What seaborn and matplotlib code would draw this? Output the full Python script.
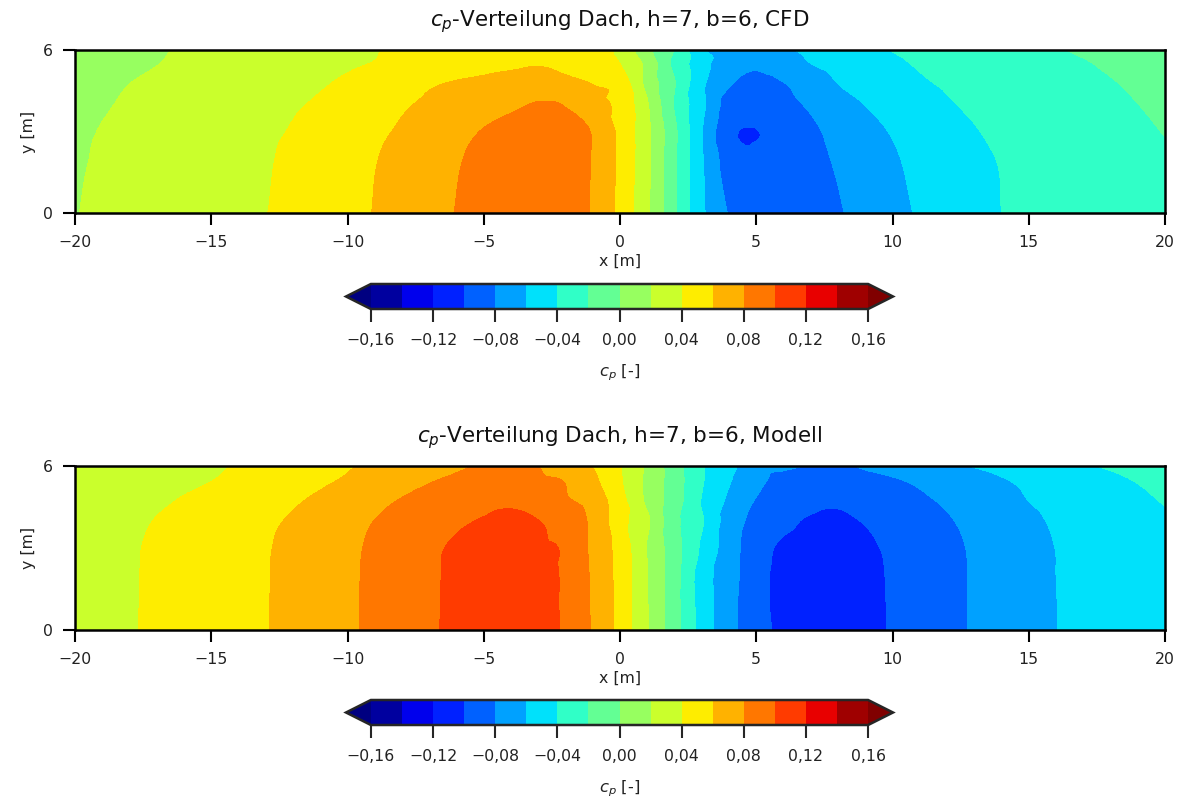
import numpy as np
import matplotlib
matplotlib.use("Agg")
import matplotlib.pyplot as plt
import matplotlib.tri as mtri
import seaborn as sns

# ---------------- data ----------------
x_m = list(range(-20, 21))            # roof length coordinate [m]
y_m = [0, 2, 3, 4, 4.75, 5.5, 6]      # roof width coordinate [m]

# CFD c_p values, one row per y value, columns x = -20 ... 20
cfd_y0 = [0.0195, 0.0226, 0.0254, 0.0283, 0.0311, 0.0340, 0.0369, 0.0397,
          0.0447, 0.0500, 0.0553, 0.0607, 0.0675, 0.0742, 0.0805, 0.0839, 0.0873, 0.0869, 0.0828, 0.0786,
          0.0538,
          0.0231, -0.0170, -0.0560, -0.0810, -0.0900, -0.0950, -0.0884, -0.0817, -0.0739, -0.0657,
          -0.0582, -0.0521, -0.0461, -0.0400, -0.0375, -0.0350, -0.0325, -0.0300, -0.0275, -0.0250]
cfd_y2 = [0.0185, 0.0214, 0.0243, 0.0272, 0.0301, 0.0329, 0.0358, 0.0387,
          0.0430, 0.0484, 0.0538, 0.0592, 0.0656, 0.0721, 0.0787, 0.0835, 0.0878, 0.0878, 0.0833, 0.0789,
          0.0553,
          0.0247, -0.0170, -0.0578, -0.0895, -0.0975, -0.0923, -0.0852, -0.0779, -0.0699, -0.0620,
          -0.0557, -0.0499, -0.0441, -0.0391, -0.0363, -0.0334, -0.0306, -0.0277, -0.0249, -0.0220]
cfd_y3 = [0.0170, 0.0207, 0.0235, 0.0264, 0.0292, 0.0320, 0.0349, 0.0377,
          0.0410, 0.0462, 0.0514, 0.0566, 0.0622, 0.0686, 0.0749, 0.0809, 0.0857, 0.0877, 0.0833, 0.0789,
          0.0553,
          0.0247, -0.0160, -0.0588, -0.0955, -0.1003, -0.0930, -0.0835, -0.0748, -0.0666, -0.0588,
          -0.0528, -0.0469, -0.0409, -0.0375, -0.0345, -0.0316, -0.0286, -0.0256, -0.0225, -0.0195]
cfd_y4 = [0.0150, 0.0186, 0.0217, 0.0244, 0.0272, 0.0300, 0.0328, 0.0356,
          0.0383, 0.0421, 0.0474, 0.0526, 0.0579, 0.0628, 0.0674, 0.0721, 0.0767, 0.0810, 0.0790, 0.0650,
          0.0550,
          0.0217, -0.0217, -0.0550, -0.0885, -0.0950, -0.0861, -0.0773, -0.0684, -0.0597, -0.0536,
          -0.0476, -0.0415, -0.0378, -0.0349, -0.0319, -0.0290, -0.0260, -0.0231, -0.0201, -0.0160]
cfd_y475 = [0.0130, 0.0165, 0.0200, 0.0227, 0.0253, 0.0280, 0.0307, 0.0333,
            0.0360, 0.0387, 0.0426, 0.0477, 0.0528, 0.0579, 0.0620, 0.0653, 0.0687, 0.0720, 0.0664, 0.0597,
            0.0520,
            0.0140, -0.0190, -0.0558, -0.0780, -0.0880, -0.0809, -0.0705, -0.0600, -0.0541, -0.0482,
            -0.0424, -0.0383, -0.0354, -0.0326, -0.0297, -0.0269, -0.0240, -0.0211, -0.0174, -0.0130]
cfd_y55 = [0.0110, 0.0139, 0.0168, 0.0197, 0.0223, 0.0249, 0.0275, 0.0301,
           0.0327, 0.0353, 0.0379, 0.0406, 0.0435, 0.0464, 0.0493, 0.0522, 0.0551, 0.0580, 0.0520, 0.0460,
           0.0400,
           0.0140, -0.0250, -0.0518, -0.0740, -0.0760, -0.0680, -0.0600, -0.0543, -0.0486, -0.0429,
           -0.0386, -0.0357, -0.0328, -0.0299, -0.0270, -0.0241, -0.0212, -0.0177, -0.0138, -0.0100]
cfd_y6 = [0.0100, 0.0129, 0.0157, 0.0186, 0.0213, 0.0239, 0.0265, 0.0291,
          0.0317, 0.0343, 0.0369, 0.0395, 0.0411, 0.0425, 0.0439, 0.0453, 0.0453, 0.0438, 0.0423, 0.0408,
          0.0360,
          0.0060, -0.0210, -0.0570, -0.0660, -0.0680, -0.0624, -0.0566, -0.0507, -0.0448, -0.0395,
          -0.0364, -0.0334, -0.0303, -0.0273, -0.0243, -0.0212, -0.0180, -0.0147, -0.0113, -0.0080]

# Model c_p values, one row per y value, columns x = -20 ... 20
mod_y0 = [0.0300, 0.0343, 0.0386, 0.0428, 0.0469, 0.0510, 0.0552, 0.0593,
          0.0651, 0.0712, 0.0773, 0.0838, 0.0907, 0.0976, 0.1036, 0.1092, 0.1092, 0.1035, 0.0979, 0.0778,
          0.0537,
          0.0211, -0.0119, -0.0480, -0.0741, -0.0905, -0.1060, -0.1110, -0.1120, -0.1046, -0.0986,
          -0.0918, -0.0850, -0.0784, -0.0724, -0.0663, -0.0603, -0.0571, -0.0541, -0.0510, -0.0480]
mod_y2 = [0.0300, 0.0342, 0.0384, 0.0426, 0.0467, 0.0508, 0.0550, 0.0591,
          0.0648, 0.0709, 0.0770, 0.0835, 0.0904, 0.0973, 0.1032, 0.1090, 0.1092, 0.1036, 0.0975, 0.0770,
          0.0530,
          0.0205, -0.0125, -0.0495, -0.0720, -0.0920, -0.1065, -0.1112, -0.1115, -0.1040, -0.0984,
          -0.0917, -0.0849, -0.0783, -0.0722, -0.0661, -0.0600, -0.0567, -0.0535, -0.0502, -0.0470]
mod_y3 = [0.0300, 0.0341, 0.0382, 0.0423, 0.0464, 0.0505, 0.0546, 0.0588,
          0.0643, 0.0704, 0.0765, 0.0829, 0.0898, 0.0966, 0.1025, 0.1075, 0.1075, 0.1025, 0.0975, 0.0756,
          0.0523,
          0.0191, -0.0117, -0.0430, -0.0704, -0.0913, -0.1034, -0.1085, -0.1095, -0.1030, -0.0974,
          -0.0909, -0.0844, -0.0780, -0.0719, -0.0658, -0.0598, -0.0563, -0.0529, -0.0494, -0.0460]
mod_y4 = [0.0290, 0.0329, 0.0367, 0.0406, 0.0447, 0.0489, 0.0530, 0.0571,
          0.0618, 0.0679, 0.0741, 0.0802, 0.0857, 0.0912, 0.0967, 0.1013, 0.1033, 0.1003, 0.0920, 0.0756,
          0.0472,
          0.0232, -0.0142, -0.0380, -0.0690, -0.0857, -0.0946, -0.1025, -0.1035, -0.0988, -0.0931,
          -0.0873, -0.0816, -0.0755, -0.0694, -0.0633, -0.0581, -0.0541, -0.0500, -0.0460, -0.0420]
mod_y475 = [0.0270, 0.0305, 0.0339, 0.0374, 0.0411, 0.0453, 0.0495, 0.0537,
            0.0579, 0.0630, 0.0691, 0.0752, 0.0809, 0.0851, 0.0894, 0.0936, 0.0967, 0.0888, 0.0820, 0.0720,
            0.0470,
            0.0160, -0.0102, -0.0410, -0.0634, -0.0809, -0.0867, -0.0932, -0.0968, -0.0911, -0.0868,
            -0.0826, -0.0776, -0.0716, -0.0657, -0.0598, -0.0555, -0.0513, -0.0470, -0.0427, -0.0390]
mod_y55 = [0.0250, 0.0279, 0.0308, 0.0337, 0.0367, 0.0396, 0.0437, 0.0481,
           0.0525, 0.0569, 0.0617, 0.0673, 0.0730, 0.0786, 0.0825, 0.0857, 0.0868, 0.0828, 0.0788, 0.0640,
           0.0420,
           0.0150, -0.0100, -0.0380, -0.0580, -0.0750, -0.0850, -0.0875, -0.0879, -0.0842, -0.0813,
           -0.0770, -0.0717, -0.0664, -0.0611, -0.0564, -0.0520, -0.0476, -0.0431, -0.0391, -0.0360]
mod_y6 = [0.0240, 0.0268, 0.0296, 0.0324, 0.0352, 0.0380, 0.0412, 0.0455,
          0.0499, 0.0543, 0.0586, 0.0633, 0.0681, 0.0728, 0.0776, 0.0812, 0.0826, 0.0799, 0.0697, 0.0595,
          0.0405,
          0.0167, -0.0111, -0.0380, -0.0540, -0.0728, -0.0768, -0.0808, -0.0827, -0.0781, -0.0733,
          -0.0686, -0.0638, -0.0591, -0.0548, -0.0504, -0.0461, -0.0417, -0.0384, -0.0357, -0.0330]

levels = [-0.16, -0.14, -0.12, -0.10, -0.08, -0.06, -0.04, -0.02, 0.0,
          0.02, 0.04, 0.06, 0.08, 0.10, 0.12, 0.14, 0.16]
cbar_ticks = [-0.16, -0.12, -0.08, -0.04, 0.0, 0.04, 0.08, 0.12, 0.16]
cbar_ticklabels = ["\u22120,16", "\u22120,12", "\u22120,08", "\u22120,04", "0,00",
                   "0,04", "0,08", "0,12", "0,16"]
x_ticks = [-20, -15, -10, -5, 0, 5, 10, 15, 20]
y_ticks = [0, 6]
titles = [r"$c_p$-Verteilung Dach, h=7, b=6, CFD",
          r"$c_p$-Verteilung Dach, h=7, b=6, Modell"]

# ---------------- style ----------------
sns.set_style("ticks")
plt.rcParams["font.family"] = ["DejaVu Sans"]
plt.rcParams["mathtext.fontset"] = "dejavusans"
FS = 11.3

W, H = 1180, 798
fig = plt.figure(figsize=(W / 100, H / 100), dpi=100)


def frac(left, top, right, bottom):
    return [left / W, (H - bottom) / H, (right - left) / W, (bottom - top) / H]


ax_specs = [(frac(75, 50, 1165, 213), frac(346, 284, 893, 309)),
            (frac(75, 466, 1165, 630), frac(346, 700, 893, 725))]
fields = [np.vstack([cfd_y0, cfd_y2, cfd_y3, cfd_y4, cfd_y475, cfd_y55, cfd_y6]),
          np.vstack([mod_y0, mod_y2, mod_y3, mod_y4, mod_y475, mod_y55, mod_y6])]

X, Y = np.meshgrid(x_m, y_m)
tri = mtri.Triangulation(X.ravel(), Y.ravel())
refiner = mtri.UniformTriRefiner(tri)

for (apos, cpos), Z, title in zip(ax_specs, fields, titles):
    ax = fig.add_axes(apos)
    # matplotlib's own smooth contour rendering of the tabulated values
    interp = mtri.CubicTriInterpolator(tri, Z.ravel(), kind="geom")
    tri_f, z_f = refiner.refine_field(Z.ravel(), triinterpolator=interp, subdiv=3)
    cs = ax.tricontourf(tri_f, z_f, levels=levels, cmap="jet", extend="both")
    ax.set_xlim(-20, 20)
    ax.set_ylim(0, 6)
    ax.set_xticks(x_ticks)
    ax.set_yticks(y_ticks)
    ax.tick_params(length=8.6, width=1.5, pad=7, labelsize=FS, color="black",
                   labelcolor="#222222")
    for s in ax.spines.values():
        s.set_linewidth(1.8)
        s.set_color("black")
    ax.set_xlabel("x [m]", fontsize=FS, labelpad=3, color="#222222")
    ax.set_ylabel("y [m]", fontsize=FS, labelpad=5, color="#222222")
    ax.set_title(title, fontsize=15.5, pad=17, color="#111111")

    cax = fig.add_axes(cpos)
    cb = fig.colorbar(cs, cax=cax, orientation="horizontal", ticks=cbar_ticks)
    cb.ax.set_xticklabels(cbar_ticklabels)
    cb.ax.tick_params(length=9, width=1.5, pad=8, labelsize=FS, labelcolor="#222222")
    cb.outline.set_linewidth(1.8)
    cb.set_label(r"$c_p$ [-]", fontsize=FS + 0.5, labelpad=11, color="#222222")

fig.savefig("out.png", dpi=100)
